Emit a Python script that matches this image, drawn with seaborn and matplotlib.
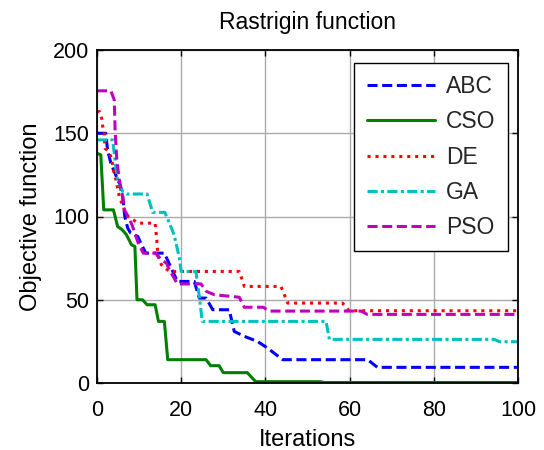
import matplotlib
matplotlib.use("Agg")
import matplotlib.pyplot as plt
import seaborn as sns
import pandas as pd

# ---- data (vertices) ----
abc_x = [0, 2.1, 2.5, 3.3, 4.1, 5.3, 6.1, 6.6, 7.3, 8, 9.7, 10.4, 11.6, 16, 18, 19.1, 23.1, 24.3, 25.9, 27.5, 31.4, 32.6, 35, 38.1, 40.5, 44.1, 64.3, 66.6, 100]
abc_y = [150, 150, 140, 132, 127, 120, 112, 100, 93, 90, 88, 84, 78, 78, 67, 61, 61, 51, 51, 44, 44, 31, 28, 25, 21, 14, 14, 9.4, 9.4]

cso_x = [0, 0.9, 1.6, 3.9, 4.9, 6, 7, 8.2, 9, 9.5, 10.8, 11.9, 13.8, 14.6, 16, 16.8, 25.9, 27, 29, 30, 35.7, 37.7, 53, 54, 100]
cso_y = [138, 137, 104, 104, 94, 92, 89, 83, 82, 50, 50, 47, 47, 37, 37, 14, 14, 10.4, 10.4, 6.2, 6.2, 0.8, 0.8, 0.3, 0.3]

de_x = [0, 0.6, 1.1, 1.3, 1.7, 1.9, 2.7, 3.5, 3.9, 4.5, 5.3, 6.5, 7.3, 8.1, 9.7, 13.8, 14.2, 14.5, 15.3, 17.2, 33.8, 35, 43.7, 45.3, 58.3, 59.9, 100]
de_y = [163, 163, 159, 155, 150, 141, 139, 135, 128, 122, 112, 104, 100, 99, 96, 96, 86, 76, 71, 67, 67, 58, 58, 48, 48, 43.4, 43.4]

ga_x = [0, 3.7, 4.1, 4.5, 4.9, 6.1, 7.0, 11.9, 12.8, 13.2, 16.1, 17.3, 18.3, 19.5, 20, 23.5, 24.3, 25, 54.4, 55.2, 94.4, 95.6, 100]
ga_y = [146, 146, 138, 129, 122, 115, 113.5, 113.5, 106, 102.5, 102.5, 95.5, 89, 76, 67, 67, 52, 37, 37, 26.2, 26.2, 24.8, 24.8]

pso_x = [0, 3.3, 4.1, 4.3, 4.7, 5.3, 6.1, 6.5, 7.4, 8.3, 9.8, 11, 13.9, 15.3, 16.5, 17.2, 19.1, 24.7, 26, 27.9, 33.8, 35, 39.5, 40.8, 62.7, 64.2, 100]
pso_y = [175.5, 175.5, 170, 152, 134, 122, 112, 104, 100, 95, 84, 78, 78, 74, 72, 68, 59.5, 59.5, 55, 53, 51.5, 45.5, 45.5, 43.2, 43.2, 41.2, 41.2]

names = ["ABC", "CSO", "DE", "GA", "PSO"]
xticks = [0, 20, 40, 60, 80, 100]
yticks = [0, 50, 100, 150, 200]

series = {"ABC": (abc_x, abc_y), "CSO": (cso_x, cso_y), "DE": (de_x, de_y),
          "GA": (ga_x, ga_y), "PSO": (pso_x, pso_y)}
colors = {"ABC": (0, 0, 1), "CSO": (0, 0.5, 0), "DE": (1, 0, 0),
          "GA": (0, 0.75, 0.75), "PSO": (0.75, 0, 0.75)}
dash_map = {"ABC": (3.3, 1.5), "CSO": None, "DE": (1.0, 1.6),
            "GA": (3.3, 1.1, 1.0, 1.1), "PSO": (3.3, 1.5)}

sns.set_theme(style="white")
plt.rcParams['font.family'] = ['Liberation Sans', 'DejaVu Sans']

fig = plt.figure(figsize=(5.44, 4.5), dpi=100)
ax = fig.add_axes([97/544, 1 - 383/450, (518 - 97)/544, (383 - 50)/450])

for n in names:
    xs, ys = series[n]
    df = pd.DataFrame({"Iterations": xs, "value": ys})
    sns.lineplot(data=df, x="Iterations", y="value", ax=ax, color=colors[n],
                 lw=2.2, label=n, sort=False, estimator=None)
    line = ax.lines[-1]
    if dash_map[n] is not None:
        line.set_dashes(dash_map[n])
    line.set_solid_joinstyle('round')

ax.set_xlim(0, 100)
ax.set_ylim(0, 200)
ax.set_xticks(xticks)
ax.set_yticks(yticks)
ax.grid(True, color='#ababab', lw=1.0, ls='-')
ax.set_axisbelow(True)
for s in ax.spines.values():
    s.set_color('black')
    s.set_linewidth(1.3)
ax.tick_params(direction='in', length=4, width=1, top=True, right=True,
               bottom=True, left=True, labelsize=15.5, colors='black')
ax.tick_params(axis='x', pad=12)
ax.tick_params(axis='y', pad=5.5)
ax.set_xlabel("Iterations", fontsize=17, color='black', labelpad=6)
ax.set_ylabel("Objective function", fontsize=17, color='black', labelpad=8)
ax.set_title("Rastrigin function", fontsize=16.5, color='black', pad=15)

leg = ax.legend(loc='upper right', bbox_to_anchor=(0.976, 0.962), borderaxespad=0,
                fontsize=16.5, handlelength=3.0, labelspacing=0.53, handletextpad=0.45,
                frameon=True, fancybox=False, borderpad=0.55)
leg.get_frame().set_edgecolor('black')
leg.get_frame().set_linewidth(1.0)
leg.get_frame().set_alpha(1)

fig.savefig("out.png", dpi=100)
